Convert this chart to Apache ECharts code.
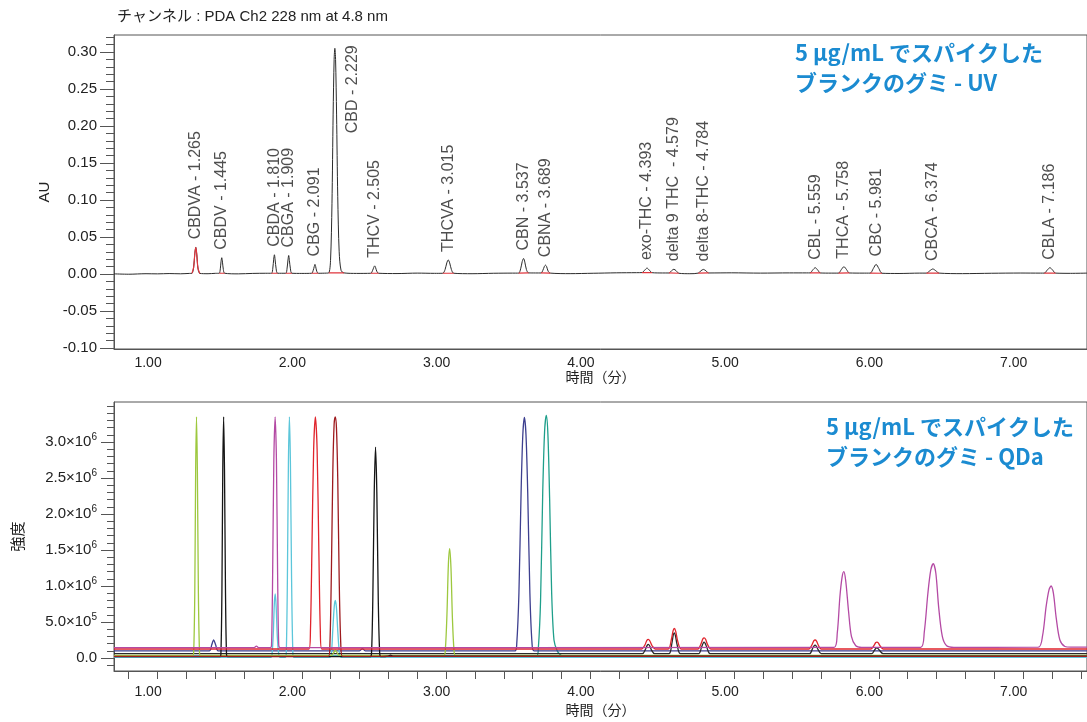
<!DOCTYPE html>
<html>
<head>
<meta charset="utf-8">
<script src="https://cdn.jsdelivr.net/npm/echarts@6/dist/echarts.min.js"></script>
<style>
html, body { margin: 0; padding: 0; background: #fff; }
#chart { width: 1087px; height: 722px; }
</style>
</head>
<body>
<div id="chart"></div>
<script>
// ===== UV channel (PDA 228 nm) =====
const uvPeakNames = ['CBDVA', 'CBDV', 'CBDA', 'CBGA', 'CBG', 'CBD', 'THCV', 'THCVA', 'CBN', 'CBNA',
  'exo-THC', 'delta 9 THC ', 'delta 8-THC', 'CBL', 'THCA', 'CBC', 'CBCA', 'CBLA'];
const uvPeakTimes = [1.265, 1.445, 1.810, 1.909, 2.091, 2.229, 2.505, 3.015, 3.537, 3.689,
  4.393, 4.579, 4.784, 5.559, 5.758, 5.981, 6.374, 7.186];
const uvPeakHeights = [0.036, 0.022, 0.026, 0.025, 0.013, 0.305, 0.011, 0.019, 0.021, 0.012,
  0.0080, 0.0064, 0.0062, 0.0085, 0.0099, 0.0130, 0.0068, 0.0085];

// retention time (min), absorbance (AU)
const uvTrace = [
  [0.698, 0.0002], [0.80, -0.0003], [0.92, 0.0004], [1.00, 0.0002], [1.08, 0.0006], [1.16, 0.0003], [1.22, 0.0008],
  [1.238, 0.0009], [1.250, 0.009], [1.258, 0.027], [1.265, 0.036], [1.272, 0.026], [1.280, 0.008], [1.293, 0.0008],
  [1.35, 0.0004], [1.40, 0.0009],
  [1.427, 0.0010], [1.435, 0.007], [1.440, 0.017], [1.445, 0.022], [1.450, 0.016], [1.456, 0.006], [1.465, 0.0010],
  [1.56, 0.0002], [1.66, 0.0008], [1.75, 0.0010],
  [1.790, 0.0010], [1.799, 0.008], [1.805, 0.020], [1.810, 0.026], [1.815, 0.019], [1.822, 0.007], [1.832, 0.0010],
  [1.888, 0.0010], [1.898, 0.008], [1.904, 0.019], [1.909, 0.025], [1.914, 0.018], [1.921, 0.007], [1.931, 0.0010],
  [2.00, 0.0008],
  [2.068, 0.0010], [2.079, 0.005], [2.086, 0.010], [2.091, 0.013], [2.096, 0.010], [2.103, 0.004], [2.114, 0.0010],
  [2.17, 0.0012],
  [2.187, 0.0015], [2.199, 0.018], [2.209, 0.095], [2.217, 0.215], [2.224, 0.290], [2.229, 0.305], [2.234, 0.290],
  [2.241, 0.215], [2.249, 0.105], [2.259, 0.030], [2.272, 0.005], [2.292, 0.0015],
  [2.38, 0.0008],
  [2.478, 0.0010], [2.491, 0.005], [2.499, 0.009], [2.505, 0.011], [2.511, 0.009], [2.519, 0.004], [2.532, 0.0010],
  [2.66, 0.0006], [2.80, 0.0012], [2.92, 0.0009],
  [2.977, 0.0010], [2.993, 0.006], [3.005, 0.015], [3.015, 0.019], [3.025, 0.015], [3.037, 0.006], [3.053, 0.0010],
  [3.18, 0.0004], [3.33, 0.0010], [3.46, 0.0012],
  [3.503, 0.0012], [3.517, 0.007], [3.528, 0.017], [3.537, 0.021], [3.546, 0.016], [3.557, 0.006], [3.572, 0.0015],
  [3.62, 0.0014],
  [3.658, 0.0014], [3.671, 0.005], [3.681, 0.010], [3.689, 0.012], [3.697, 0.010], [3.707, 0.004], [3.722, 0.0012],
  [3.86, 0.0005], [4.02, 0.0010], [4.18, 0.0016], [4.32, 0.0018],
  [4.358, 0.0019], [4.376, 0.0050], [4.393, 0.0080], [4.410, 0.0050], [4.428, 0.0018],
  [4.50, 0.0014],
  [4.545, 0.0014], [4.563, 0.0044], [4.579, 0.0064], [4.595, 0.0044], [4.613, 0.0010],
  [4.69, 0.0004],
  [4.748, 0.0012], [4.767, 0.0044], [4.784, 0.0062], [4.801, 0.0044], [4.820, 0.0014],
  [4.98, 0.0016], [5.18, 0.0012], [5.38, 0.0015], [5.50, 0.0015],
  [5.523, 0.0015], [5.542, 0.0055], [5.559, 0.0085], [5.576, 0.0055], [5.595, 0.0014],
  [5.67, 0.0012],
  [5.720, 0.0012], [5.740, 0.0060], [5.758, 0.0099], [5.776, 0.0060], [5.796, 0.0014],
  [5.89, 0.0012],
  [5.940, 0.0012], [5.962, 0.0075], [5.981, 0.0130], [6.000, 0.0075], [6.022, 0.0010],
  [6.14, 0.0007], [6.28, 0.0012],
  [6.330, 0.0012], [6.354, 0.0045], [6.374, 0.0068], [6.394, 0.0045], [6.418, 0.0012],
  [6.58, 0.0005], [6.78, 0.0010], [6.98, 0.0013], [7.12, 0.0012],
  [7.147, 0.0012], [7.168, 0.0055], [7.186, 0.0085], [7.204, 0.0055], [7.225, 0.0012],
  [7.33, 0.0009], [7.443, 0.0012]
];

// integration: peak drawn fully in red, and integration baselines (start, end)
const uvRedPeakSpans = [[1.238, 1.293]];
const uvBaselineSpans = [[1.427, 1.465], [1.790, 1.832], [1.888, 1.931], [2.068, 2.114], [2.187, 2.292],
  [2.478, 2.532], [2.977, 3.053], [3.503, 3.572], [3.658, 3.722], [4.358, 4.428], [4.545, 4.613],
  [4.748, 4.820], [5.523, 5.595], [5.720, 5.796], [5.940, 6.022], [6.330, 6.418], [7.147, 7.225]];

// ===== QDa SIR channels: time (min), intensity =====
const qdaTeal = [[0.698, 30000], [3.628, 30000], [3.640, 150000], [3.655, 800000], [3.670, 2300000], [3.683, 3150000],
  [3.695, 3370000], [3.706, 3100000], [3.718, 2200000], [3.732, 900000], [3.748, 250000], [3.770, 100000],
  [3.790, 50000], [3.810, 30000], [7.443, 30000]];
const qdaNavy = [[0.698, 100000], [1.360, 100000], [1.375, 180000], [1.389, 250000], [1.403, 180000], [1.420, 100000],
  [2.40, 100000], [2.42, 130000], [2.44, 100000],
  [3.478, 100000], [3.490, 200000], [3.505, 900000], [3.520, 2300000], [3.532, 3100000], [3.543, 3340000],
  [3.554, 3100000], [3.566, 2300000], [3.581, 900000], [3.596, 200000], [3.610, 100000], [7.443, 100000]];
const qdaCyan = [[0.698, 10000], [1.785, 10000], [1.794, 60000], [1.803, 380000], [1.810, 780000], [1.816, 890000],
  [1.822, 720000], [1.830, 300000], [1.840, 50000], [1.850, 10000],
  [1.884, 10000], [1.892, 60000], [1.900, 1100000], [1.907, 2700000], [1.914, 3350000], [1.921, 2700000],
  [1.929, 1100000], [1.938, 60000], [1.946, 10000],
  [2.195, 10000], [2.205, 60000], [2.215, 400000], [2.225, 720000], [2.232, 800000], [2.240, 700000],
  [2.250, 350000], [2.262, 50000], [2.275, 10000], [7.443, 10000]];
const qdaBlack2 = [[0.698, 60000], [4.360, 60000], [4.382, 120000], [4.394, 175000], [4.402, 190000], [4.411, 170000],
  [4.424, 110000], [4.445, 60000],
  [4.545, 60000], [4.565, 200000], [4.575, 320000], [4.582, 350000], [4.590, 310000], [4.602, 180000], [4.625, 60000],
  [4.750, 60000], [4.771, 150000], [4.782, 205000], [4.789, 220000], [4.797, 200000], [4.809, 140000], [4.830, 60000],
  [5.520, 60000], [5.540, 130000], [5.551, 170000], [5.558, 180000], [5.566, 165000], [5.578, 120000], [5.600, 60000],
  [5.950, 60000], [5.970, 110000], [5.980, 135000], [5.987, 140000], [5.995, 130000], [6.007, 100000], [6.030, 60000],
  [7.443, 60000]];
const qdaYellowGreen = [[0.698, 35000], [1.242, 35000], [1.250, 60000], [1.258, 900000], [1.264, 2600000], [1.270, 3350000],
  [1.276, 2600000], [1.283, 900000], [1.291, 60000], [1.298, 35000],
  [2.205, 35000], [2.220, 70000], [2.232, 110000], [2.245, 70000], [2.260, 35000],
  [2.985, 35000], [2.995, 120000], [3.006, 600000], [3.016, 1300000], [3.025, 1520000], [3.034, 1250000],
  [3.044, 550000], [3.055, 110000], [3.066, 35000], [7.443, 35000]];
const qdaBlack = [[0.698, 18000], [1.432, 18000], [1.439, 50000], [1.446, 900000], [1.452, 2600000], [1.458, 3350000],
  [1.464, 2600000], [1.471, 900000], [1.478, 50000], [1.486, 18000],
  [2.474, 18000], [2.483, 60000], [2.492, 800000], [2.502, 2300000], [2.511, 2930000], [2.520, 2300000],
  [2.530, 800000], [2.540, 60000], [2.550, 18000], [2.600, 25000], [2.615, 40000], [2.630, 25000], [7.443, 25000]];
const qdaDarkRed = [[0.698, 22000], [2.185, 22000], [2.195, 200000], [2.205, 1200000], [2.215, 2600000], [2.224, 3250000],
  [2.232, 3350000], [2.240, 3200000], [2.249, 2500000], [2.259, 1100000], [2.270, 200000], [2.282, 22000], [7.443, 22000]];
const qdaRed = [[0.698, 125000], [2.050, 125000], [2.060, 400000], [2.070, 1500000], [2.082, 2900000], [2.094, 3350000],
  [2.106, 2900000], [2.118, 1500000], [2.128, 400000], [2.138, 125000],
  [4.355, 125000], [4.378, 180000], [4.392, 245000], [4.402, 260000], [4.412, 240000], [4.428, 170000], [4.450, 125000],
  [4.540, 125000], [4.562, 260000], [4.574, 380000], [4.582, 410000], [4.592, 370000], [4.605, 240000], [4.630, 125000],
  [4.745, 125000], [4.768, 200000], [4.780, 265000], [4.789, 280000], [4.799, 260000], [4.812, 190000], [4.835, 125000],
  [5.515, 125000], [5.538, 190000], [5.550, 240000], [5.558, 250000], [5.568, 235000], [5.580, 180000], [5.600, 125000],
  [5.945, 125000], [5.968, 180000], [5.979, 215000], [5.987, 220000], [5.996, 210000], [6.008, 170000], [6.030, 125000],
  [7.443, 125000]];
const qdaMagenta = [[0.698, 145000], [1.670, 145000], [1.685, 165000], [1.700, 145000],
  [1.782, 145000], [1.790, 180000], [1.798, 1200000], [1.806, 2750000], [1.815, 3350000], [1.824, 2750000],
  [1.832, 1200000], [1.840, 180000], [1.850, 145000],
  [5.690, 148000], [5.712, 350000], [5.730, 850000], [5.745, 1120000], [5.757, 1200000], [5.770, 1080000],
  [5.790, 650000], [5.810, 300000], [5.840, 170000], [5.880, 148000],
  [6.290, 148000], [6.315, 360000], [6.340, 900000], [6.360, 1220000], [6.377, 1310000], [6.395, 1180000],
  [6.415, 700000], [6.440, 300000], [6.470, 170000], [6.520, 148000],
  [7.105, 150000], [7.135, 310000], [7.160, 720000], [7.180, 950000], [7.194, 1000000], [7.210, 900000],
  [7.230, 550000], [7.255, 250000], [7.290, 160000], [7.330, 150000], [7.443, 150000]];

const qdaChannels = [
  { name: 'CBNA', color: '#1f9f8b', data: qdaTeal },
  { name: 'CBN', color: '#3d3f8f', data: qdaNavy },
  { name: 'CBGA', color: '#5cc6da', data: qdaCyan },
  { name: 'THC (2)', color: '#2a2a2a', data: qdaBlack2 },
  { name: 'CBDVA / THCVA', color: '#9dc83e', data: qdaYellowGreen },
  { name: 'CBDV / THCV', color: '#151515', data: qdaBlack },
  { name: 'CBD', color: '#9e1a1e', data: qdaDarkRed },
  { name: 'CBG / THC', color: '#e0252d', data: qdaRed },
  { name: 'CBDA / THCA / CBCA / CBLA', color: '#b44aa4', data: qdaMagenta }
];

// ===== axis ticks =====
const timeLabelValues = [1, 2, 3, 4, 5, 6, 7];
const timeTickValues = [0.8, 1.0, 1.2, 1.4, 1.6, 1.8, 2.0, 2.2, 2.4, 2.6, 2.8, 3.0, 3.2, 3.4, 3.6, 3.8, 4.0,
  4.2, 4.4, 4.6, 4.8, 5.0, 5.2, 5.4, 5.6, 5.8, 6.0, 6.2, 6.4, 6.6, 6.8, 7.0, 7.2, 7.4];
const auMajorTicks = [-0.10, -0.05, 0.00, 0.05, 0.10, 0.15, 0.20, 0.25, 0.30];
const auMinorTicks = [];
for (let i = -10; i <= 32; i++) auMinorTicks.push(i / 100);
const qdaTickValues = [0, 500000, 1000000, 1500000, 2000000, 2500000, 3000000];
const qdaTickMantissa = ['0.0', '5.0', '1.0', '1.5', '2.0', '2.5', '3.0'];
const qdaTickExponent = ['', '5', '6', '6', '6', '6', '6'];
const qdaMinorTicks = [];
for (let i = -1; i <= 35; i++) qdaMinorTicks.push(i * 100000);

// ===== build derived series data =====
function pointAt(t) {
  let best = uvTrace[0];
  uvTrace.forEach(p => { if (Math.abs(p[0] - t) < Math.abs(best[0] - t)) best = p; });
  return best;
}
const uvRed = [];
uvRedPeakSpans.forEach(([a, b]) => {
  uvTrace.forEach(p => { if (p[0] >= a && p[0] <= b) uvRed.push(p); });
  uvRed.push([b + 0.001, null]);
});
uvBaselineSpans.forEach(([a, b]) => {
  uvRed.push(pointAt(a));
  uvRed.push(pointAt(b));
  uvRed.push([b + 0.001, null]);
});
uvRed.sort((p, q) => p[0] - q[0]);

const uvLabelData = uvPeakNames.map((n, i) => {
  const item = { name: n, value: [uvPeakTimes[i], uvPeakHeights[i]] };
  if (n === 'CBD') {
    item.label = { position: [19, 86] };
  }
  return item;
});

const FONT = '"Liberation Sans", Arial, "Noto Sans CJK JP", sans-serif';
const TEXT = '#222';
const AXIS = '#555';

const chart = echarts.init(document.getElementById('chart'));

function timeAxis(gridIndex, withTicks, labelMargin, nameGap) {
  return {
    type: 'value', gridIndex, min: 0.698, max: 7.443,
    axisLine: { show: true, onZero: false, lineStyle: { color: AXIS, width: 1 } },
    axisTick: withTicks
      ? { show: true, length: 8, inside: false, customValues: timeTickValues, lineStyle: { color: AXIS } }
      : { show: false },
    axisLabel: {
      customValues: timeLabelValues, formatter: v => v.toFixed(2), margin: labelMargin,
      fontSize: 14, color: TEXT, fontFamily: FONT, padding: [0, 19, 0, 0]
    },
    splitLine: { show: false },
    name: '時間（分）', nameLocation: 'middle', nameGap,
    nameTextStyle: { fontSize: 14, color: TEXT, fontFamily: FONT }
  };
}

chart.setOption({
  animation: false,
  backgroundColor: '#fff',
  textStyle: { fontFamily: FONT },
  grid: [
    { left: 114, top: 35, right: -3, height: 314, show: true, borderColor: AXIS, borderWidth: 1 },
    { left: 114, top: 402, right: -3, height: 269, show: true, borderColor: AXIS, borderWidth: 1 }
  ],
  graphic: [
    { type: 'text', left: 117, top: 9,
      style: { text: 'チャンネル : PDA Ch2 228 nm at 4.8 nm', font: '15px ' + FONT, fill: TEXT } },
    { type: 'text', left: 795, top: 38,
      style: { text: '5 µg/mL でスパイクした\nブランクのグミ - UV', font: 'bold 22px "Noto Sans CJK JP", sans-serif',
        fill: '#1b8bd1', lineHeight: 30 } },
    { type: 'text', left: 826, top: 412,
      style: { text: '5 µg/mL でスパイクした\nブランクのグミ - QDa', font: 'bold 22px "Noto Sans CJK JP", sans-serif',
        fill: '#1b8bd1', lineHeight: 30 } }
  ],
  xAxis: [timeAxis(0, false, 7, 22), timeAxis(1, true, 14, 33)],
  yAxis: [
    {
      type: 'value', gridIndex: 0, position: 'left', min: -0.10135, max: 0.3230,
      axisLine: { show: true, lineStyle: { color: AXIS } },
      axisTick: { show: true, length: 14, customValues: auMajorTicks, lineStyle: { color: AXIS } },
      axisLabel: { customValues: auMajorTicks, formatter: v => v.toFixed(2), margin: 17, fontSize: 15, color: TEXT, fontFamily: FONT },
      splitLine: { show: false },
      name: 'AU', nameLocation: 'middle', nameGap: 59, nameRotate: 90,
      nameTextStyle: { fontSize: 15, color: TEXT, fontFamily: FONT }
    },
    {
      type: 'value', gridIndex: 0, position: 'left', min: -0.10135, max: 0.3230,
      axisLine: { show: false },
      axisTick: { show: true, length: 8, customValues: auMinorTicks, lineStyle: { color: AXIS } },
      axisLabel: { show: false }, splitLine: { show: false }
    },
    {
      type: 'value', gridIndex: 1, position: 'left', min: -180560, max: 3555600,
      axisLine: { show: true, lineStyle: { color: AXIS } },
      axisTick: { show: true, length: 13, customValues: qdaTickValues, lineStyle: { color: AXIS } },
      axisLabel: {
        customValues: qdaTickValues, margin: 17, color: TEXT, fontFamily: FONT,
        formatter: v => {
          const i = qdaTickValues.indexOf(v);
          if (i < 0) return '';
          return qdaTickExponent[i]
            ? '{m|' + qdaTickMantissa[i] + '×10}{e|' + qdaTickExponent[i] + '}'
            : '{m|' + qdaTickMantissa[i] + '}';
        },
        rich: {
          m: { fontSize: 15, color: TEXT, fontFamily: FONT },
          e: { fontSize: 10, color: TEXT, fontFamily: FONT, padding: [0, 0, 9, 0] }
        }
      },
      splitLine: { show: false },
      name: '強度', nameLocation: 'middle', nameGap: 88, nameRotate: 90,
      nameTextStyle: { fontSize: 15, color: TEXT, fontFamily: FONT }
    },
    {
      type: 'value', gridIndex: 1, position: 'left', min: -180560, max: 3555600,
      axisLine: { show: false },
      axisTick: { show: true, length: 7, customValues: qdaMinorTicks, lineStyle: { color: AXIS } },
      axisLabel: { show: false }, splitLine: { show: false }
    }
  ],
  series: [
    {
      name: 'PDA 228 nm', type: 'line', xAxisIndex: 0, yAxisIndex: 0, data: uvTrace,
      showSymbol: false, smooth: 0.3, lineStyle: { color: '#2b2b2b', width: 1 }, z: 2
    },
    {
      name: '積分', type: 'line', xAxisIndex: 0, yAxisIndex: 0, data: uvRed, connectNulls: false,
      showSymbol: false, smooth: 0.3, lineStyle: { color: '#e0353d', width: 1.2 }, z: 3
    },
    {
      name: 'ピーク', type: 'scatter', xAxisIndex: 0, yAxisIndex: 0, data: uvLabelData,
      symbolSize: 2, itemStyle: { color: 'rgba(0,0,0,0)' }, z: 4,
      label: {
        show: true, position: 'top', distance: 7, rotate: 90, align: 'left', verticalAlign: 'middle',
        fontSize: 16, color: TEXT, fontFamily: FONT,
        formatter: p => p.name + ' - ' + p.value[0].toFixed(3)
      }
    }
  ].concat(qdaChannels.map((c, i) => ({
    name: c.name, type: 'line', xAxisIndex: 1, yAxisIndex: 2, data: c.data,
    showSymbol: false, smooth: 0.3, lineStyle: { color: c.color, width: 1.3 }, z: 2 + i * 0.01
  })))
});
</script>
</body>
</html>
